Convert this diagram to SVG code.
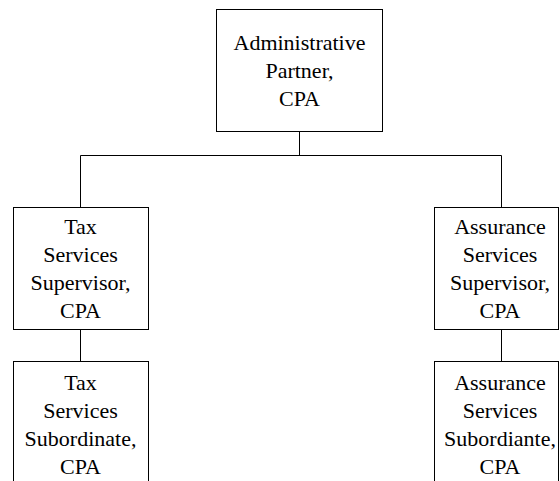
<svg xmlns="http://www.w3.org/2000/svg" width="560" height="481" viewBox="0 0 560 481">
<style>
.box{fill:#fff;stroke:#000;stroke-width:1}
.ln{fill:none;stroke:#000;stroke-width:1}
text{font-family:"Liberation Serif","Times New Roman",serif;font-size:22px;fill:#000;text-anchor:middle}
</style>
<rect width="560" height="481" fill="#fff"/>
<g id="connectors">
<path class="ln" d="M299.5 131.5V155.5M80.5 155.5H501.5M80.5 155.5V207.5M501.5 155.5V207.5M80.5 329.5V361.5M501.5 329.5V361.5"/>
</g>
<g id="admin-partner">
<rect class="box" x="216.5" y="9.5" width="166" height="122"/>
<text x="299.5" y="50">Administrative</text>
<text x="299.5" y="78">Partner,</text>
<text x="299.5" y="106">CPA</text>
</g>
<g id="tax-supervisor">
<rect class="box" x="13.5" y="207.5" width="135" height="122"/>
<text x="80.5" y="234">Tax</text>
<text x="80.5" y="262">Services</text>
<text x="80.5" y="290">Supervisor,</text>
<text x="80.5" y="318">CPA</text>
</g>
<g id="tax-subordinate">
<rect class="box" x="13.5" y="361.5" width="135" height="130"/>
<text x="80.5" y="390">Tax</text>
<text x="80.5" y="418">Services</text>
<text x="80.5" y="446">Subordinate,</text>
<text x="80.5" y="474">CPA</text>
</g>
<g id="assurance-supervisor">
<rect class="box" x="434.5" y="207.5" width="124" height="122"/>
<text x="500" y="234">Assurance</text>
<text x="500" y="262">Services</text>
<text x="500" y="290">Supervisor,</text>
<text x="500" y="318">CPA</text>
</g>
<g id="assurance-subordinate">
<rect class="box" x="434.5" y="361.5" width="124" height="130"/>
<text x="500" y="390">Assurance</text>
<text x="500" y="418">Services</text>
<text x="500" y="446">Subordiante,</text>
<text x="500" y="474">CPA</text>
</g>
</svg>
